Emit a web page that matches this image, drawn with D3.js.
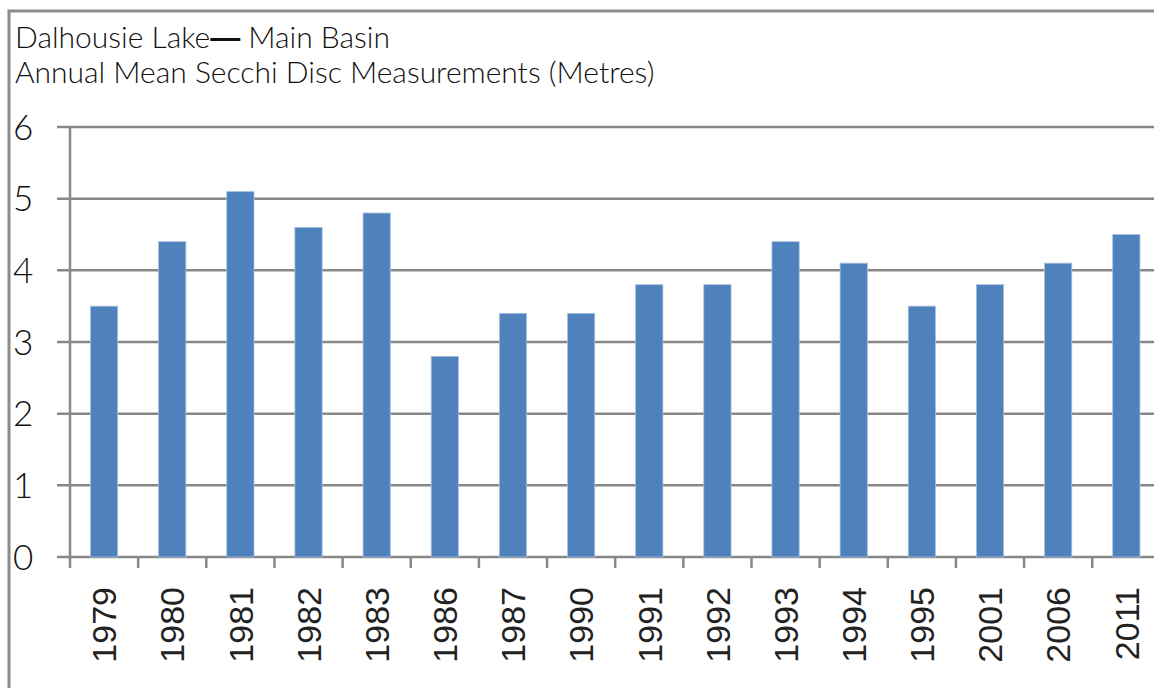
<!DOCTYPE html>
<html>
	<head>
		<title>Dalhousie Lake Secchi</title>
		<style>
			body,html
			{
				margin:0px;
				background:#fff;
			}
		</style>
		<script src='https://cdn.jsdelivr.net/npm/d3@7'></script>
	</head>
	<body>
	<svg width='1154' height='688'></svg>
	<script>
		// values
		var years = ['1979','1980','1981','1982','1983','1986','1987','1990','1991','1992','1993','1994','1995','2001','2006','2011'];
		var secchi = [3.5, 4.4, 5.1, 4.6, 4.8, 2.8, 3.4, 3.4, 3.8, 3.8, 4.4, 4.1, 3.5, 3.8, 4.1, 4.5];
		var yTicks = [0, 1, 2, 3, 4, 5, 6];
		var titleLines = [['Dalhousie Lake', '\u2014', ' Main Basin'], ['Annual Mean Secchi Disc Measurements (Metres)']];

		var svg = d3.select('svg');
		var gray = '#878787';
		var plotLeft = 70, plotTop = 127, plotBottom = 557, plotRight = 70 + 16 * 68.15;

		// outer frame
		svg.append('rect')
			.attr('x', 9).attr('y', 11)
			.attr('width', 1160).attr('height', 700)
			.attr('fill', 'none')
			.attr('stroke', '#8c8c8c')
			.attr('stroke-width', 3);

		var titles = svg.selectAll('text.title').data(titleLines).enter()
			.append('text')
			.attr('class', 'title')
			.attr('x', 15)
			.attr('y', function(d, i){ return 48 + i * 35; })
			.style('font-family', 'Lato, sans-serif')
			.style('font-weight', 300)
			.style('font-size', '30px')
			.style('fill', '#111');
		titles.selectAll('tspan').data(function(d){ return d; }).enter()
			.append('tspan')
			.style('font-weight', function(d){ return d == '\u2014' ? 900 : 300; })
			.style('font-family', function(d){ return d == '\u2014' ? 'Liberation Sans, sans-serif' : null; })
			.text(function(d){ return d; });

		var x = d3.scaleBand().domain(years).range([plotLeft, plotRight]).paddingInner(0.6).paddingOuter(0.3);
		var y = d3.scaleLinear().domain([0, 6]).range([plotBottom, plotTop]);

		// gridlines
		svg.selectAll('line.grid').data(yTicks).enter()
			.append('line')
			.attr('class', 'grid')
			.attr('x1', plotLeft - 13).attr('x2', 1160)
			.attr('y1', function(d){ return y(d); })
			.attr('y2', function(d){ return y(d); })
			.attr('stroke', gray)
			.attr('stroke-width', 2.5);

		svg.selectAll('text.ylab').data(yTicks).enter()
			.append('text')
			.attr('class', 'ylab')
			.attr('x', 13)
			.attr('y', function(d){ return y(d); })
			.attr('dy', '0.36em')
			.style('font-family', 'Lato, sans-serif')
			.style('font-weight', 300)
			.style('font-size', '35px')
			.style('fill', '#111')
			.text(function(d){ return d; });

		// bars
		svg.selectAll('rect.bar').data(secchi).enter()
			.append('rect')
			.attr('class', 'bar')
			.attr('x', function(d, i){ return x(years[i]); })
			.attr('width', x.bandwidth())
			.attr('y', function(d){ return y(d); })
			.attr('height', function(d){ return y(0) - y(d); })
			.attr('fill', '#4f81bd')
			.attr('stroke', '#a9c1e0')
			.attr('stroke-width', 0.8);

		// y axis line
		svg.append('line')
			.attr('x1', plotLeft).attr('x2', plotLeft)
			.attr('y1', plotTop).attr('y2', plotBottom)
			.attr('stroke', gray).attr('stroke-width', 2.5);

		// x axis ticks at category boundaries
		var step = (plotRight - plotLeft) / years.length;
		var bounds = d3.range(years.length + 1).map(function(i){ return plotLeft + i * step; });
		svg.selectAll('line.xtick').data(bounds).enter()
			.append('line')
			.attr('class', 'xtick')
			.attr('x1', function(d){ return d; })
			.attr('x2', function(d){ return d; })
			.attr('y1', plotBottom)
			.attr('y2', plotBottom + 11)
			.attr('stroke', gray).attr('stroke-width', 2.5);

		svg.selectAll('text.xlab').data(years).enter()
			.append('text')
			.attr('class', 'xlab')
			.attr('transform', function(d){
				return 'translate(' + (x(d) + x.bandwidth() / 2) + ',' + 587 + ') rotate(-90)';
			})
			.attr('text-anchor', 'end')
			.attr('dy', '0.36em')
			.style('font-family', 'Liberation Sans, Arial, sans-serif')
			.style('font-size', '34px')
			.style('fill', '#222')
			.text(function(d){ return d; });
	</script>
	</body>
</html>
